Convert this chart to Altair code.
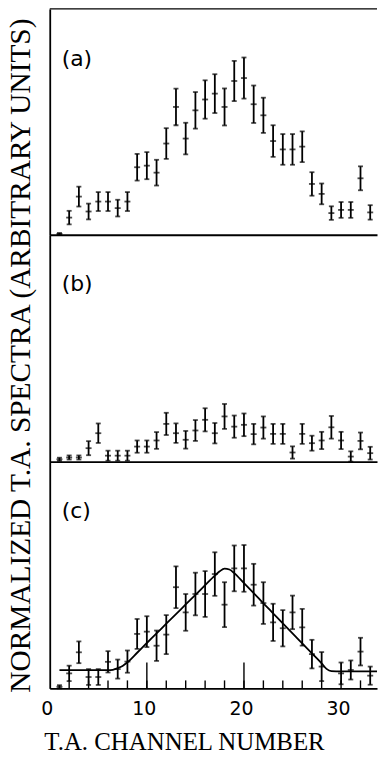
import altair as alt
import pandas as pd

# ---------------- data ----------------
channels = list(range(1, 34))

a_vals = [0.4, 7.6, 16.9, 10.3, 14.7, 14.7, 11.8, 14.7, 29.9, 30.6, 27.5, 40.4, 56.6, 42.6,
          55.1, 59.9, 62.5, 56.6, 68.1, 69.4, 57.8, 52.9, 41.5, 37.8, 37.8, 39.0, 22.5, 18.1,
          9.6, 11.0, 11.0, 25.0, 9.9]
a_errs = [0.4, 3.0, 4.4, 3.5, 4.2, 4.2, 3.7, 4.2, 5.9, 6.0, 5.7, 6.8, 8.1, 7.0, 8.1, 8.5,
          8.6, 8.2, 8.9, 9.1, 8.3, 7.8, 7.0, 6.8, 6.8, 6.8, 5.2, 4.6, 3.0, 3.5, 3.5, 5.3, 3.2]

b_vals = [1.0, 1.8, 1.8, 5.9, 12.5, 2.6, 2.6, 2.6, 6.6, 6.6, 9.3, 16.6, 12.5, 9.6, 13.7,
          18.4, 12.5, 19.9, 15.4, 16.2, 12.1, 15.0, 12.2, 12.2, 4.0, 12.2, 8.1, 9.3, 15.1,
          9.3, 2.2, 9.1, 3.7]
b_errs = [0.7, 0.9, 0.9, 3.1, 4.3, 2.2, 2.2, 2.2, 2.7, 2.7, 3.7, 4.9, 4.3, 3.9, 4.6, 5.1,
          4.5, 5.5, 4.9, 5.0, 4.5, 4.9, 4.4, 4.4, 2.7, 4.4, 3.3, 3.8, 5.0, 3.8, 2.3, 3.7, 2.8]

c_channels = list(range(1, 29)) + [30, 31, 32, 33]
c_vals = [0.7, 6.6, 15.9, 5.0, 5.0, 11.7, 8.5, 11.8, 24.0, 25.0, 18.8, 23.7, 44.6, 33.5,
          41.6, 41.6, 50.4, 36.9, 52.9, 52.9, 45.7, 37.6, 29.1, 26.5, 33.5, 26.9, 15.1, 9.6,
          6.6, 8.1, 16.2, 5.6]
c_errs = [0.7, 3.4, 4.8, 3.5, 3.5, 4.7, 4.2, 4.9, 6.6, 6.8, 6.7, 8.6, 9.2, 8.1, 9.4, 10.1,
          9.6, 9.9, 10.1, 10.3, 9.2, 9.2, 8.2, 8.0, 7.4, 8.1, 6.3, 6.4, 4.8, 4.2, 6.1, 4.0]

fit_x = [1, 2, 3, 4, 5, 6, 6.5, 7, 7.5, 8, 9, 10, 11, 12, 13, 14, 15, 16, 17, 17.5, 18,
         18.5, 19, 20, 21, 22, 23, 24, 25, 26, 27, 28, 28.5, 29, 30, 31, 32, 33, 34]
fit_y = [8.0, 8.0, 8.0, 8.0, 8.0, 8.0, 8.2, 8.9, 9.9, 11.5, 15.7, 20.0, 24.2, 28.5, 32.7,
         37.0, 41.2, 45.5, 49.7, 51.6, 52.8, 52.4, 50.8, 46.4, 42.0, 37.5, 33.1, 28.7, 24.2,
         19.8, 15.4, 11.0, 8.6, 7.6, 7.5, 7.5, 7.5, 7.5, 7.5]

panel_labels = ["(a)", "(b)", "(c)"]
x_label_values = [0, 10, 20, 30]
minor_ticks = list(range(2, 34, 2))
major_ticks = [10, 20]

x_title = "T.A. CHANNEL NUMBER"
y_title = "NORMALIZED T.A. SPECTRA (ARBITRARY UNITS)"

# ---------------- styling ----------------
W = 329
XMAX = 33.7
LW = 1.8
SERIF = "Liberation Serif"
SANS = "DejaVu Sans"


def frame(vals, errs, chs):
    return pd.DataFrame({
        "ch": chs,
        "v": vals,
        "lo": [max(0.0, v - e) for v, e in zip(vals, errs)],
        "hi": [v + e for v, e in zip(vals, errs)],
    })


def xscale():
    return alt.Scale(domain=[0, XMAX], nice=False, zero=False)


def yscale():
    return alt.Scale(domain=[0, 100], nice=False, zero=True)


def panel(df, label, height, kind):
    if kind == "c":
        xaxis = alt.Axis(values=x_label_values, title=x_title, labels=True, ticks=False,
                         grid=False, domain=True, domainColor="black", domainWidth=LW,
                         labelFont=SANS, labelFontSize=19, labelColor="black",
                         labelPadding=11, labelFlush=False, labelOverlap=False,
                         labelOffset=-3, format="d",
                         titleFont=SERIF, titleFontSize=25, titleFontWeight="normal",
                         titleColor="black", titleX=135, titleY=61,
                         titleBaseline="alphabetic", titleAlign="center")
    else:
        xaxis = alt.Axis(title=None, labels=False, ticks=False, grid=False, domain=True,
                         domainColor="black", domainWidth=LW)
    if kind == "b":
        yaxis = alt.Axis(title=y_title, labels=False, ticks=False, grid=False, domain=True,
                         domainColor="black", domainWidth=LW,
                         titleFont=SERIF, titleFontSize=29.5, titleFontWeight="normal",
                         titleColor="black", titleX=-29, titleY=121, titleAngle=270,
                         titleBaseline="middle", titleAlign="center")
    else:
        yaxis = alt.Axis(title=None, labels=False, ticks=False, grid=False, domain=True,
                         domainColor="black", domainWidth=LW)

    base = alt.Chart(df)
    bars = base.mark_rule(strokeWidth=LW, color="black").encode(
        x=alt.X("ch:Q", scale=xscale(), axis=xaxis),
        y=alt.Y("lo:Q", scale=yscale(), axis=yaxis),
        y2="hi:Q",
    )
    cap_lo = base.mark_tick(orient="horizontal", size=5, thickness=LW, color="black").encode(
        x="ch:Q", y="lo:Q")
    cap_hi = base.mark_tick(orient="horizontal", size=5, thickness=LW, color="black").encode(
        x="ch:Q", y="hi:Q")
    mid = base.mark_tick(orient="horizontal", size=6, thickness=LW, color="black").encode(
        x="ch:Q", y="v:Q")
    text = alt.Chart(pd.DataFrame({"t": [label]})).mark_text(
        align="left", baseline="middle", font=SANS, fontSize=22, color="black"
    ).encode(x=alt.value(12), y=alt.value(50), text="t:N")

    layers = [bars, cap_lo, cap_hi, mid, text]
    if kind == "a":
        top_line = alt.Chart(pd.DataFrame({"t": [0]})).mark_rule(
            color="black", strokeWidth=1.2
        ).encode(x=alt.value(0), x2=alt.value(W), y=alt.value(0))
        layers.append(top_line)
    if kind == "c":
        fit = alt.Chart(pd.DataFrame({"ch": fit_x, "v": fit_y})).mark_line(
            color="black", strokeWidth=1.8, interpolate="monotone", clip=True
        ).encode(x="ch:Q", y="v:Q")
        minor = alt.Chart(pd.DataFrame({"ch": minor_ticks})).mark_rule(
            color="black", strokeWidth=1.4
        ).encode(x="ch:Q", y=alt.value(height), y2=alt.value(height - 8))
        major = alt.Chart(pd.DataFrame({"ch": major_ticks})).mark_rule(
            color="black", strokeWidth=1.4
        ).encode(x="ch:Q", y=alt.value(height), y2=alt.value(height - 26))
        layers += [fit, minor, major]
    return alt.layer(*layers).properties(width=W, height=height)


pa = panel(frame(a_vals, a_errs, channels), panel_labels[0], 227, "a")
pb = panel(frame(b_vals, b_errs, channels), panel_labels[1], 228, "b")
pc = panel(frame(c_vals, c_errs, c_channels), panel_labels[2], 228, "c")

chart = alt.vconcat(pa, pb, pc, spacing=0, bounds="flush").properties(
    padding={"left": 5, "top": 6, "right": 0, "bottom": 0},
    background="white",
).configure_view(stroke=None)

chart.save("out.html", embed_options={"renderer": "svg", "actions": False})
